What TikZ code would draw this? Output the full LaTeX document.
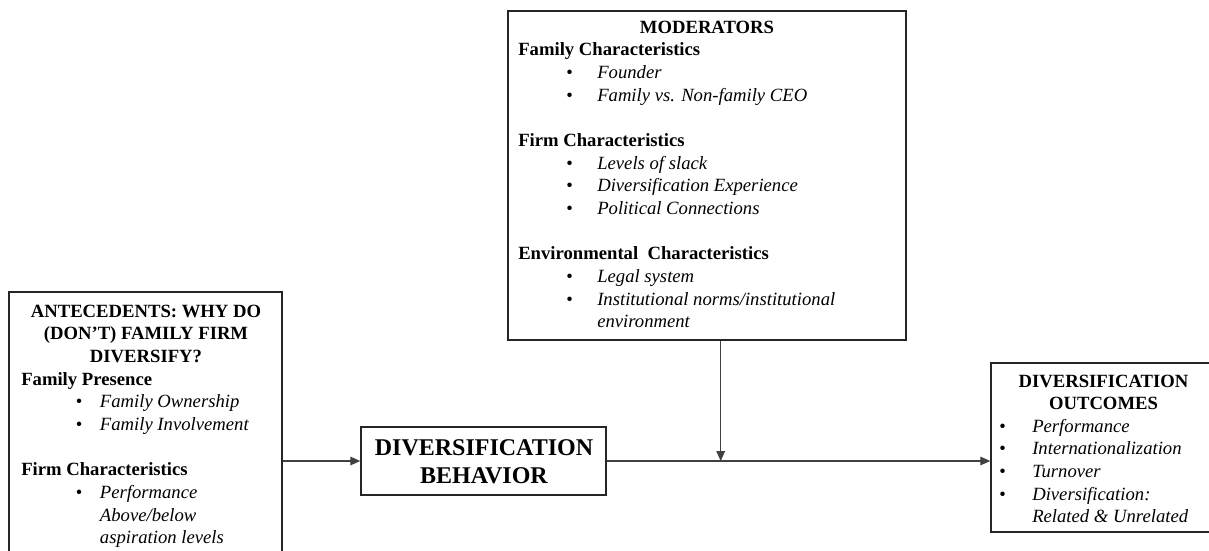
\documentclass[tikz,border=0pt]{standalone}
\usepackage{fontspec}
\setmainfont{Liberation Serif}
\usetikzlibrary{arrows.meta,fit}
\newcommand\bitem[3]{\hspace*{#1}\makebox[#2][l]{\textbullet}\textit{#3}}
\begin{document}
\begin{tikzpicture}[x=0.75pt,y=-0.75pt,
  box/.style={draw=black!85, line width=1.1pt, inner sep=0pt},
  conn/.style={draw=black!75, line width=0.8pt},
  tip/.style={-{Triangle[length=7.5pt,width=6.5pt]}},
  txt/.style={inner sep=0pt, font=\fontsize{14pt}{17pt}\selectfont},
  btxt/.style={inner sep=0pt, font=\fontsize{14pt}{17pt}\selectfont\bfseries},
  bigtxt/.style={inner sep=0pt, font=\fontsize{18pt}{21pt}\selectfont\bfseries},
]
\useasboundingbox (0,0) rectangle (1209,550);
\clip (0,0) rectangle (1209,550);
\fill[white] (0,0) rectangle (1209,550);

% boxes
\node[box, fit={(9,292) (282,600)}] (ante) {};
\node[box, fit={(361,427) (606,495)}] (db) {};
\node[box, fit={(508,11) (906,340)}] (mod) {};
\node[box, fit={(991,363) (1260,532)}] (out) {};

% antecedents text
\node[btxt, anchor=base] (antehead) at (146,317)
  {\begin{tabular}[t]{@{}c@{}}ANTECEDENTS: WHY DO\\(DON’T) FAMILY FIRM\\DIVERSIFY?\end{tabular}};
\node[txt, anchor=base west] (antebody) at (21,385)
  {\begin{tabular}[t]{@{}l@{}}
  \textbf{Family Presence}\\
  \bitem{41pt}{18pt}{Family Ownership}\\
  \bitem{41pt}{18pt}{Family Involvement}\\
  \\
  \textbf{Firm Characteristics}\\
  \bitem{41pt}{18pt}{Performance}\\
  \hspace*{59pt}\textit{Above/below}\\
  \hspace*{59pt}\textit{aspiration levels}
  \end{tabular}};

% moderators text
\node[btxt, anchor=base] (modhead) at (707,33) {MODERATORS};
\node[txt, anchor=base west] (modbody) at (518,55.7)
  {\begin{tabular}[t]{@{}l@{}}
  \textbf{Family Characteristics}\\
  \bitem{36pt}{23.25pt}{Founder}\\
  \bitem{36pt}{23.25pt}{Family vs. Non-family CEO}\\
  \\
  \textbf{Firm Characteristics}\\
  \bitem{36pt}{23.25pt}{Levels of slack}\\
  \bitem{36pt}{23.25pt}{Diversification Experience}\\
  \bitem{36pt}{23.25pt}{Political Connections}\\
  \\
  \textbf{Environmental\ \ Characteristics}\\
  \bitem{36pt}{23.25pt}{Legal system}\\
  \bitem{36pt}{23.25pt}{Institutional norms/institutional}\\
  \hspace*{59.25pt}\textit{environment}
  \end{tabular}};

% diversification behavior text
\node[bigtxt, anchor=base] (dbtext) at (484,455)
  {\begin{tabular}[t]{@{}c@{}}DIVERSIFICATION\\BEHAVIOR\end{tabular}};

% outcomes text
\node[btxt, anchor=base] (outhead) at (1103.5,387)
  {\begin{tabular}[t]{@{}c@{}}DIVERSIFICATION\\OUTCOMES\end{tabular}};
\node[txt, anchor=base west] (outbody) at (999,432)
  {\begin{tabular}[t]{@{}l@{}}
  \bitem{0pt}{24.75pt}{Performance}\\
  \bitem{0pt}{24.75pt}{Internationalization}\\
  \bitem{0pt}{24.75pt}{Turnover}\\
  \bitem{0pt}{24.75pt}{Diversification:}\\
  \hspace*{24.75pt}\textit{Related \& Unrelated}
  \end{tabular}};

% connectors
\coordinate (j) at (720.7,461);
\draw[conn,tip] (ante.east |- db.west) -- (db.west);
\draw[conn] (db.east) -- (j);
\draw[conn,tip] (j) -- (out.west |- db.east);
\draw[conn,tip] (mod.south -| j) -- (j);
\end{tikzpicture}
\end{document}
